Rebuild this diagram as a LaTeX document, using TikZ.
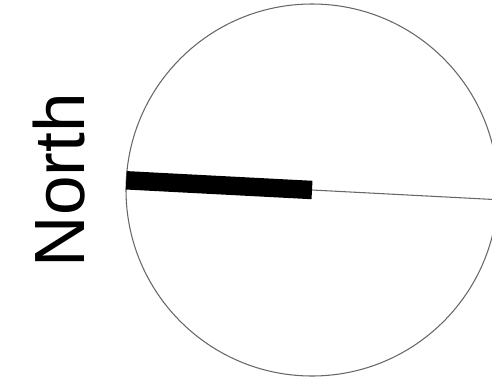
\documentclass[tikz,border=0pt]{standalone}
\usepackage{fontspec}
\setmainfont{Liberation Sans}
\usetikzlibrary{positioning}

\begin{document}
\begin{tikzpicture}[x=0.02cm, y=-0.02cm]
    \clip (0,0) rectangle (492,382);
    \coordinate (centre) at (312,190);
    \coordinate (west) at (126.3,180.3);
    \coordinate (east) at (497.7,199.7);
    % dial outline
    \draw[black!60, line width=0.6pt] (centre) circle (186);
    % thin hand towards the right edge
    \draw[black!60, line width=0.6pt] (centre) -- (east);
    % thick hand, drawn last so it sits on the outline
    \draw[line width=10.5pt] (west) -- (centre);
    \node[rotate=90, anchor=base, font=\fontsize{40.5}{48}\selectfont] (label) at (84,180) {North};
  \end{tikzpicture}
\end{document}
